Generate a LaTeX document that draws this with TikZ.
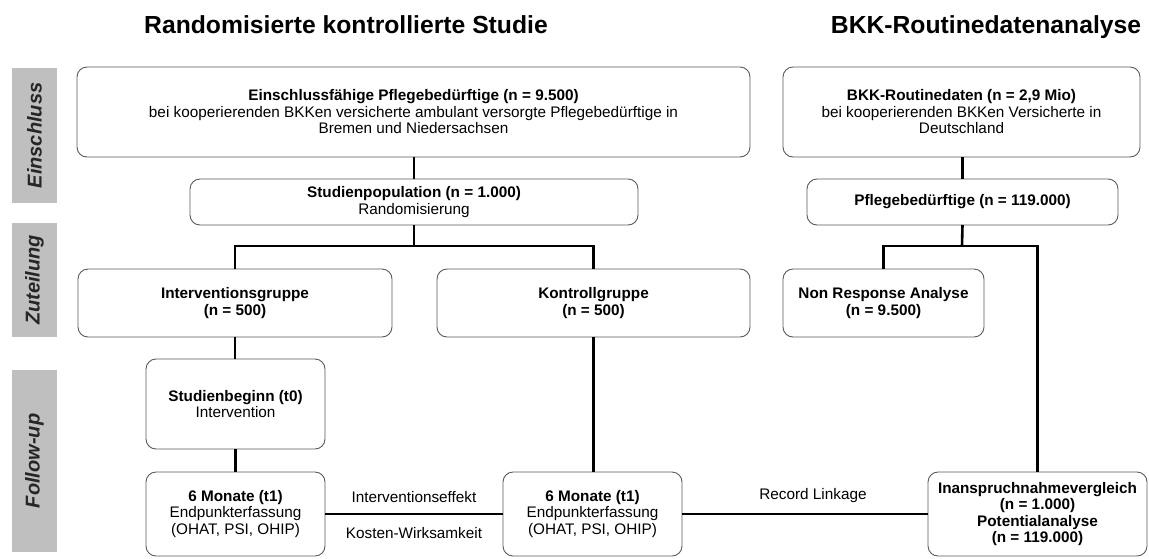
\documentclass[tikz,border=0pt]{standalone}
\usepackage{fontspec}
\setmainfont{Liberation Sans}
\definecolor{boxgray}{HTML}{5A5A5A}
\definecolor{sidegray}{HTML}{BFBFBF}
\definecolor{sidetext}{HTML}{262626}
\tikzset{
  box/.style={draw=boxgray, line width=0.9pt, rounded corners=10pt, fill=white,
    inner sep=0pt, outer sep=0pt, align=center,
    font=\fontsize{15.3}{16.5}\selectfont},
  conn/.style={line width=2.6pt, black},
  sidelabel/.style={fill=sidegray, inner sep=0pt, outer sep=0pt, rotate=90,
    text=sidetext, font=\fontsize{20}{24}\selectfont\bfseries\itshape,
    minimum height=45pt},
  titletext/.style={font=\fontsize{24.7}{30}\selectfont\bfseries, anchor=base, inner sep=0pt},
  edgelabel/.style={font=\fontsize{15.3}{17}\selectfont, inner sep=0pt}
}
\begin{document}
\begin{tikzpicture}[x=1pt, y=-1pt]
\useasboundingbox (0,0) rectangle (1149,558);

% titles
\node[titletext] (t1) at (346,33) {Randomisierte kontrollierte Studie};
\node[titletext] (t2) at (986,33) {BKK-Routinedatenanalyse};

% side labels
\node[sidelabel, minimum width=135pt] (s1) at (34.5,135.5) {Einschluss};
\node[sidelabel, minimum width=114pt] (s2) at (34.5,280) {Zuteilung};
\node[sidelabel, minimum width=182pt] (s3) at (34.5,461) {Follow-up};

% boxes
\node[box, minimum width=673pt, minimum height=90pt] (b1) at (413.5,112)
  {\textbf{Einschlussfähige Pflegebedürftige (n = 9.500)}\\
   bei kooperierenden BKKen versicherte ambulant versorgte Pflegebedürftige in\\
   Bremen und Niedersachsen};
\node[box, minimum width=357pt, minimum height=90pt] (bkk) at (961.5,112)
  {\textbf{BKK-Routinedaten (n = 2,9 Mio)}\\
   bei kooperierenden BKKen Versicherte in\\
   Deutschland};
\node[box, minimum width=448pt, minimum height=46pt] (pop) at (414,202)
  {\textbf{Studienpopulation (n = 1.000)}\\ Randomisierung};
\node[box, minimum width=311pt, minimum height=46pt] (pfl) at (962.5,202)
  {\textbf{Pflegebedürftige (n = 119.000)}};
\node[box, minimum width=314pt, minimum height=68pt] (ig) at (235,303)
  {\textbf{Interventionsgruppe}\\ \textbf{(n = 500)}};
\node[box, minimum width=313pt, minimum height=68pt] (kg) at (593.5,303)
  {\textbf{Kontrollgruppe}\\ \textbf{(n = 500)}};
\node[box, minimum width=201pt, minimum height=68pt] (nr) at (883.5,303)
  {\textbf{Non Response Analyse}\\ \textbf{(n = 9.500)}};
\node[box, minimum width=179pt, minimum height=90pt] (sb) at (235.5,404)
  {\textbf{Studienbeginn (t0)}\\ Intervention};
\node[box, minimum width=179pt, minimum height=84pt] (m1) at (235.5,514)
  {\textbf{6 Monate (t1)}\\ Endpunkterfassung\\ (OHAT, PSI, OHIP)};
\node[box, minimum width=179pt, minimum height=84pt] (m2) at (592.5,514)
  {\textbf{6 Monate (t1)}\\ Endpunkterfassung\\ (OHAT, PSI, OHIP)};
\node[box, minimum width=219pt, minimum height=84pt] (ia) at (1037.5,514)
  {\textbf{Inanspruchnahmevergleich}\\ \textbf{(n = 1.000)}\\
   \textbf{Potentialanalyse}\\ \textbf{(n = 119.000)}};

% junction points
\coordinate (j1) at (414,246);
\coordinate (j2) at (962,246);

% connectors
\draw[conn] (pop.north |- b1.south) -- (pop.north);
\draw[conn] (pop.south) -- (j1);
\draw[conn] (ig.north) -- (ig.north |- j1) -- (kg.north |- j1) -- (kg.north);
\draw[conn] (ig.south) -- (ig.south |- sb.north);
\draw[conn] (sb.south) -- (m1.north);
\draw[conn] (kg.south) -- (kg.south |- m2.north);
\draw[conn] (m1.east) -- node[edgelabel, above=10pt] (l1) {Interventionseffekt}
  node[edgelabel, below=12pt] (l2) {Kosten-Wirksamkeit} (m2.west);
\draw[conn] (m2.east) -- node[edgelabel, above=10pt, xshift=8pt] (l3) {Record Linkage} (ia.west);
\draw[conn] (pfl.north |- bkk.south) -- (pfl.north);
\draw[conn] (pfl.south) -- (j2);
\draw[conn] (nr.north) -- (nr.north |- j2) -- (ia.north |- j2) -- (ia.north);
\end{tikzpicture}
\end{document}
